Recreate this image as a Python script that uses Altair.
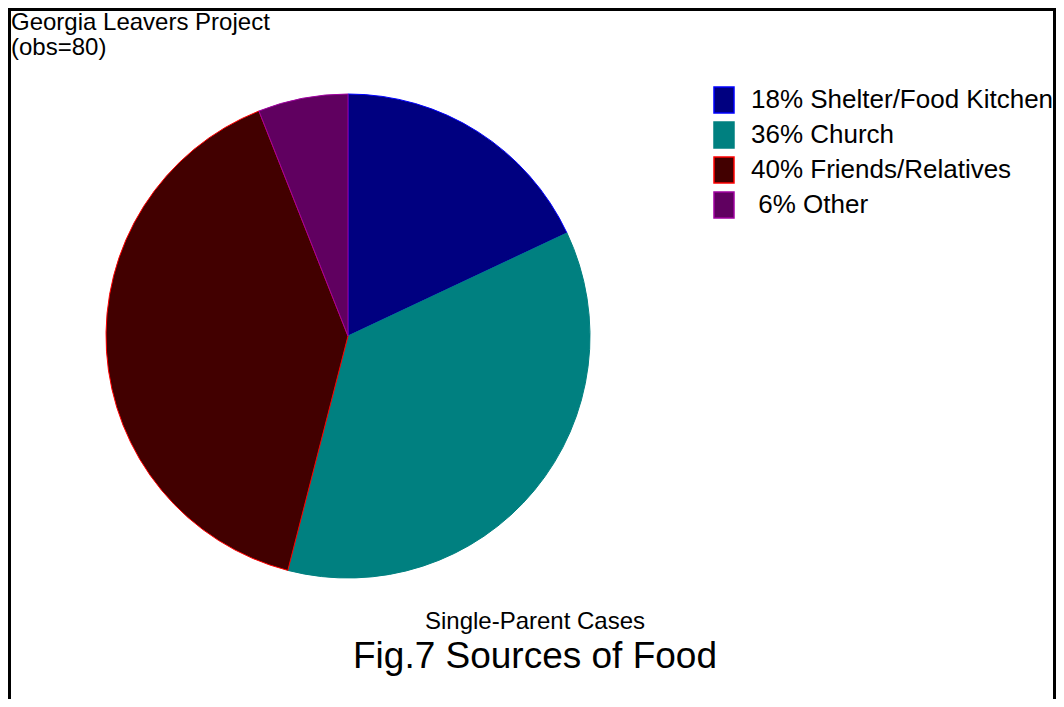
import altair as alt
import pandas as pd

# ---- data ----
categories = ["Shelter/Food Kitchen", "Church", "Friends/Relatives", "Other"]
percents = [18, 36, 40, 6]
# leading zero-width space keeps the no-break space (Vega trims plain whitespace)
legend_labels = ["18% Shelter/Food Kitchen", "36% Church", "40% Friends/Relatives", "\u200b\u00a06% Other"]
fill_colors = ["#000080", "#008080", "#420000", "#600060"]
stroke_colors = ["#0000ff", "#008080", "#ff0000", "#a000a0"]

title_lines = ["Georgia Leavers Project", "(obs=80)"]
subtitle_text = ["Single-Parent Cases"]
main_title_text = ["Fig.7 Sources of Food"]

FONT = "Liberation Sans"
W, H = 1048, 691

df = pd.DataFrame({
    "category": categories,
    "pct": percents,
    "label": legend_labels,
    "idx": list(range(len(categories))),
})

legend_spec = dict(
    orient="none", legendX=702, legendY=78, title=None,
    symbolType="M-0.769,-1H0.769V1H-0.769Z", symbolSize=676,
    symbolStrokeWidth=1.5, symbolOpacity=1,
    labelFont=FONT, labelFontSize=26, labelColor="black",
    labelLimit=0, labelOffset=13, rowPadding=3, padding=0,
)

pie = alt.Chart(df).mark_arc(
    radius=242, strokeWidth=1, opacity=1
).encode(
    theta=alt.Theta("pct:Q", stack=True),
    color=alt.Color("label:N", scale=alt.Scale(domain=legend_labels, range=fill_colors),
                    legend=alt.Legend(**legend_spec)),
    stroke=alt.Stroke("label:N", scale=alt.Scale(domain=legend_labels, range=stroke_colors),
                      legend=alt.Legend(**legend_spec)),
    order=alt.Order("idx:Q"),
    x=alt.value(340),
    y=alt.value(328),
)

t1 = alt.Chart(pd.DataFrame({"t": [title_lines[0]]})).mark_text(
    align="left", baseline="alphabetic", font=FONT, fontSize=24, color="black"
).encode(text="t:N", x=alt.value(3), y=alt.value(22))

t2 = alt.Chart(pd.DataFrame({"t": [title_lines[1]]})).mark_text(
    align="left", baseline="alphabetic", font=FONT, fontSize=24, color="black"
).encode(text="t:N", x=alt.value(3), y=alt.value(47))

sub = alt.Chart(pd.DataFrame({"t": subtitle_text})).mark_text(
    align="center", baseline="alphabetic", font=FONT, fontSize=24, color="black"
).encode(text="t:N", x=alt.value(527), y=alt.value(621))

main = alt.Chart(pd.DataFrame({"t": main_title_text})).mark_text(
    align="center", baseline="alphabetic", font=FONT, fontSize=37, color="black"
).encode(text="t:N", x=alt.value(527), y=alt.value(660))

frame_src = pd.DataFrame({"k": [0]})
left_rule = alt.Chart(frame_src).mark_rule(color="black", strokeWidth=3).encode(
    x=alt.value(1.5), y=alt.value(0), y2=alt.value(H))
top_rule = alt.Chart(frame_src).mark_rule(color="black", strokeWidth=3).encode(
    x=alt.value(0), x2=alt.value(W), y=alt.value(1.5))
right_rule = alt.Chart(frame_src).mark_rule(color="black", strokeWidth=3).encode(
    x=alt.value(W - 1.5), y=alt.value(0), y2=alt.value(H))

chart = alt.layer(pie, t1, t2, sub, main, left_rule, top_rule, right_rule).properties(
    width=W, height=H, padding=0, autosize=alt.AutoSizeParams(type="none")
).configure_view(stroke=None)

chart.save("out.html", embed_options={"renderer": "svg", "actions": False})
